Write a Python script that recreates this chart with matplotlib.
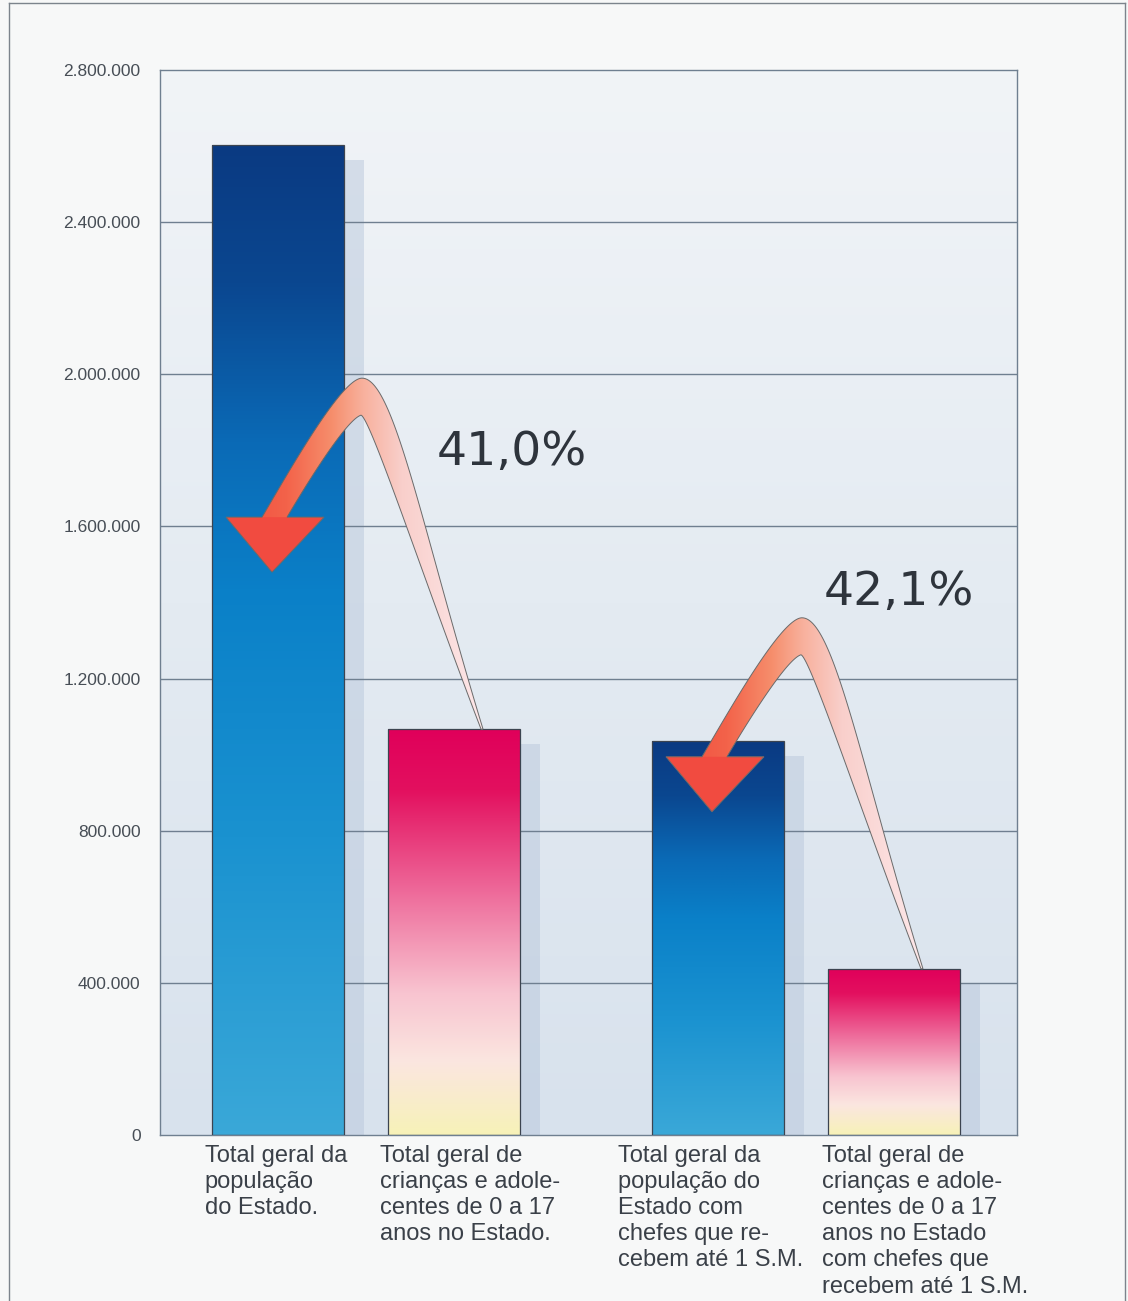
import numpy as np
import matplotlib
matplotlib.use("Agg")
import matplotlib.pyplot as plt
from matplotlib.colors import LinearSegmentedColormap
from matplotlib.patches import Polygon
from matplotlib.lines import Line2D

plt.rcParams["font.family"] = ["Liberation Sans", "DejaVu Sans"]

# ---------------- data ----------------
categories = [
    "Total geral da\npopulação\ndo Estado.",
    "Total geral de\ncrianças e adole-\ncentes de 0 a 17\nanos no Estado.",
    "Total geral da\npopulação do\nEstado com\nchefes que re-\ncebem até 1 S.M.",
    "Total geral de\ncrianças e adole-\ncentes de 0 a 17\nanos no Estado\ncom chefes que\nrecebem até 1 S.M.",
]
values = [2603000, 1067000, 1037000, 437000]
positions = [0.0, 1.0, 2.5, 3.5]
bar_styles = ["blue", "pink", "blue", "pink"]
percent_labels = ["41,0%", "42,1%"]
percent_from = [1, 3]                 # arrow starts at top of these bars
percent_text_xy = [(1.33, 1762000), (3.53, 1393000)]
y_ticks = [0, 400000, 800000, 1200000, 1600000, 2000000, 2400000, 2800000]
y_tick_labels = [f"{v:,}".replace(",", ".") for v in y_ticks]
label_offsets = [-0.415, -0.42, -0.568, -0.41]

# ---------------- figure ----------------
W, H, DPI = 1128, 1301, 100
fig = plt.figure(figsize=(W / DPI, H / DPI), dpi=DPI, facecolor="#f7f8f8")
ax = fig.add_axes([160 / W, 1 - 1135 / H, 857 / W, 1065 / H])
XLIM = (-0.67, 4.2)
YLIM = (0, 2800000)

bg = LinearSegmentedColormap.from_list("bg", ["#d8e2ed", "#e4ebf2", "#f1f4f7"])
grad = np.linspace(0, 1, 256).reshape(-1, 1)
ax.imshow(grad, cmap=bg, extent=[*XLIM, *YLIM], origin="lower", aspect="auto", zorder=0)
ax.set_xlim(XLIM)
ax.set_ylim(YLIM)

grid_c = "#6f7f90"
for v in y_ticks[1:-1]:
    ax.axhline(v, color=grid_c, lw=1.0, zorder=1)
for sp in ax.spines.values():
    sp.set_color(grid_c)
    sp.set_linewidth(1.0)

ax.set_xticks([])
ax.set_yticks(y_ticks, y_tick_labels)
ax.tick_params(axis="y", length=0, pad=14, labelsize=12.5, labelcolor="#474e56")

# shadows
ax.bar([p + 0.115 for p in positions], [v - 40000 for v in values], width=0.75,
       color="#b9c8dc", alpha=0.5, lw=0, zorder=0.5)

blue_cm = LinearSegmentedColormap.from_list(
    "blue", [(0.0, "#3aa8d8"), (0.3, "#1a92d0"), (0.55, "#0a80c8"),
             (0.7, "#0a6ab6"), (0.86, "#0b4790"), (1.0, "#0a3a82")])
pink_cm = LinearSegmentedColormap.from_list(
    "pink", [(0.0, "#f7f2b8"), (0.18, "#fbe6e0"), (0.35, "#f8c4d0"),
             (0.6, "#ee6a9a"), (0.85, "#e3105f"), (1.0, "#e0005a")])

rects = ax.bar(positions, values, width=0.75, facecolor="none",
               edgecolor="#3c4450", lw=0.9, zorder=3)
for rect, style in zip(rects, bar_styles):
    x0 = rect.get_x()
    x1 = x0 + rect.get_width()
    h = rect.get_height()
    cm = blue_cm if style == "blue" else pink_cm
    im = ax.imshow(grad, cmap=cm, extent=[x0, x1, 0, h], origin="lower",
                   aspect="auto", zorder=2.5, vmin=0, vmax=1)
    im.set_clip_path(rect)
ax.set_xlim(XLIM)
ax.set_ylim(YLIM)

# category labels
for i, lab in enumerate(categories):
    ax.annotate(lab, xy=(positions[i] + label_offsets[i], 0), xycoords="data",
                xytext=(0, -7), textcoords="offset points", ha="left", va="top",
                fontsize=17, linespacing=1.245, color="#3a4048",
                annotation_clip=False)

# ---------------- curved arrows ----------------
arrow_cm = LinearSegmentedColormap.from_list(
    "arr", [(0.0, "#f04a3e"), (0.245, "#f3634a"), (0.415, "#f68e6c"),
            (0.53, "#f8b09c"), (0.68, "#f9cfcb"), (1.0, "#fde9eb")])
inv = ax.transData.inverted()

# arrow outline as cubic Bezier segments, pixel offsets from the tail (x right, y down)
OUTER_SEGS = [[(1, 0), (-60, -200), (-88, -351), (-120, -351)],
              [(-120, -351), (-140, -351), (-189.6, -263.7), (-220, -212)]]
HEAD = [(-256, -212), (-210, -157), (-158, -212)]
INNER_SEGS = [[(-195, -212), (-174.7, -246.5), (-135.4, -309.7), (-121, -314)],
              [(-121, -314), (-111.4, -311.1), (-54.9, -140), (-1, 0)]]


def bezier_chain(segs, n=60):
    out = []
    t = np.linspace(0, 1, n)[:, None]
    for k, seg in enumerate(segs):
        P = np.array(seg, float)
        B = ((1 - t) ** 3) * P[0] + 3 * ((1 - t) ** 2) * t * P[1] + 3 * (1 - t) * t ** 2 * P[2] + t ** 3 * P[3]
        out.append(B if k == 0 else B[1:])
    return np.vstack(out)


def draw_arrow(anchor):
    a0 = ax.transData.transform(anchor)
    flip = np.array([1.0, -1.0])
    outer = bezier_chain(OUTER_SEGS) * flip + a0
    inner = bezier_chain(INNER_SEGS) * flip + a0
    head = np.array(HEAD, float) * flip + a0
    outline = np.vstack([outer, head, inner])
    patch = Polygon(inv.transform(outline), closed=True, fill=False, ec="#6a6a6a",
                    lw=0.7, zorder=6)
    ax.add_patch(patch)
    # horizontal gradient from head (left) to tail (right)
    p_left = inv.transform([[a0[0] - 260, a0[1] - 170]])[0]
    p_right = inv.transform([[a0[0] + 5, a0[1] + 360]])[0]
    row = np.linspace(0, 1, 256).reshape(1, -1)
    im = ax.imshow(row, cmap=arrow_cm, extent=[p_left[0], p_right[0], p_left[1], p_right[1]],
                   origin="lower", aspect="auto", zorder=5, vmin=0, vmax=1)
    im.set_clip_path(patch)
    ax.add_patch(Polygon(inv.transform(head), closed=True, fc="#f14b40", ec="none", zorder=5.5))


for idx in percent_from:
    draw_arrow((positions[idx] + 0.16, values[idx]))
ax.set_xlim(XLIM)
ax.set_ylim(YLIM)

for lab, (x, y) in zip(percent_labels, percent_text_xy):
    ax.text(x, y, lab, ha="center", va="baseline", fontsize=34,
            family="DejaVu Sans", color="#2e343c", zorder=7)

# page border
bc = "#7c848c"
fig.add_artist(Line2D([9 / W, 9 / W], [0, 1 - 3 / H], transform=fig.transFigure, color=bc, lw=1))
fig.add_artist(Line2D([9 / W, 1125 / W], [1 - 3 / H, 1 - 3 / H], transform=fig.transFigure, color=bc, lw=1))
fig.add_artist(Line2D([1125 / W, 1125 / W], [0, 1 - 3 / H], transform=fig.transFigure, color=bc, lw=1))

fig.savefig("out.png", dpi=DPI, facecolor=fig.get_facecolor())
